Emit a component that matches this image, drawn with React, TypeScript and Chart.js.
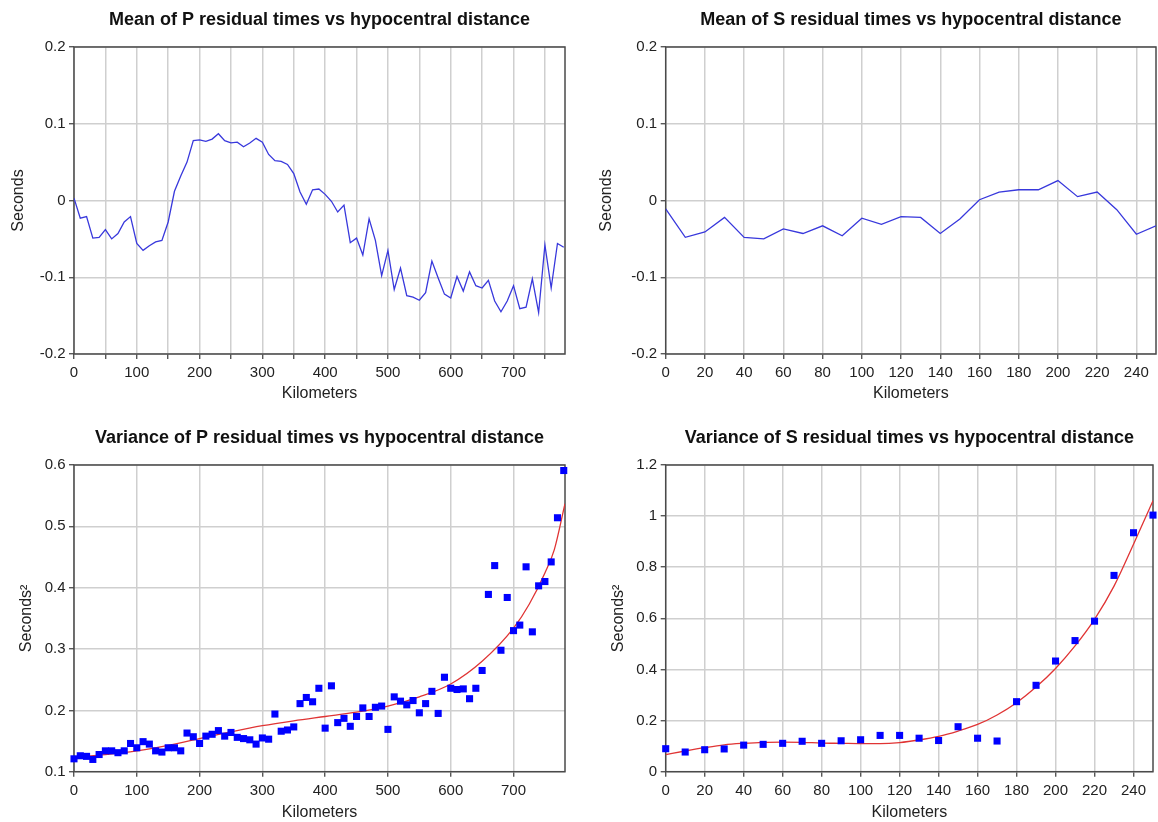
import { useEffect, useRef } from 'react';
import { Chart, registerables } from 'chart.js';

Chart.register(...registerables);

// ---- P phase: hypocentral distance (km) and residual statistics ----
const pDistanceKm = [
  0, 10, 20, 30, 40, 50, 60, 70, 80, 90, 100, 110, 120, 130, 140, 150, 160, 170, 180, 190,
  200, 210, 220, 230, 240, 250, 260, 270, 280, 290, 300, 310, 320, 330, 340, 350, 360, 370, 380, 390,
  400, 410, 420, 430, 440, 450, 460, 470, 480, 490, 500, 510, 520, 530, 540, 550, 560, 570, 580, 590,
  600, 610, 620, 630, 640, 650, 660, 670, 680, 690, 700, 710, 720, 730, 740, 750, 760, 770, 780,
];

const pMeanResidual = [
  0.003, -0.023, -0.021, -0.049, -0.048, -0.038, -0.050, -0.043, -0.028, -0.021,
  -0.056, -0.065, -0.059, -0.054, -0.052, -0.028, 0.012, 0.032, 0.050, 0.078,
  0.079, 0.077, 0.080, 0.087, 0.078, 0.075, 0.076, 0.070, 0.075, 0.081,
  0.076, 0.060, 0.052, 0.051, 0.047, 0.035, 0.011, -0.005, 0.014, 0.015,
  0.008, -0.001, -0.015, -0.006, -0.055, -0.049, -0.071, -0.024, -0.052, -0.098,
  -0.065, -0.116, -0.088, -0.124, -0.126, -0.130, -0.120, -0.079, -0.101, -0.122,
  -0.127, -0.099, -0.118, -0.093, -0.111, -0.114, -0.104, -0.131, -0.145, -0.131,
  -0.111, -0.141, -0.139, -0.102, -0.146, -0.058, -0.114, -0.056, -0.061,
];

const pVarianceResidual = [
  0.121, 0.126, 0.125, 0.120, 0.128, 0.134, 0.134, 0.131, 0.134, 0.146,
  0.139, 0.149, 0.145, 0.134, 0.132, 0.139, 0.139, 0.134, 0.163, 0.157,
  0.146, 0.158, 0.161, 0.167, 0.158, 0.164, 0.156, 0.154, 0.152, 0.145,
  0.155, 0.153, 0.194, 0.166, 0.168, 0.173, 0.211, 0.221, 0.214, 0.236,
  0.171, 0.240, 0.180, 0.187, 0.174, 0.190, 0.204, 0.190, 0.205, 0.207,
  0.169, 0.222, 0.215, 0.209, 0.216, 0.196, 0.211, 0.231, 0.195, 0.254,
  0.236, 0.234, 0.235, 0.219, 0.236, 0.265, 0.389, 0.436, 0.298, 0.384,
  0.330, 0.339, 0.434, 0.328, 0.403, 0.410, 0.442, 0.514, 0.591,
];

// Fitted trend of the P variance
const pFitKm = [0, 50, 100, 150, 200, 250, 300, 350, 400, 450, 500, 550, 600, 650, 700, 725, 750, 765, 782];
const pFitVariance = [
  0.124, 0.128, 0.134, 0.143, 0.154, 0.165, 0.175, 0.183, 0.190, 0.197,
  0.207, 0.222, 0.243, 0.280, 0.334, 0.373, 0.424, 0.462, 0.537,
];

// ---- S phase ----
const sDistanceKm = [
  0, 10, 20, 30, 40, 50, 60, 70, 80, 90, 100, 110, 120, 130, 140, 150, 160, 170, 180, 190,
  200, 210, 220, 230, 240, 250,
];

const sMeanResidual = [
  -0.011, -0.048, -0.041, -0.022, -0.048, -0.050, -0.037, -0.043, -0.033, -0.046,
  -0.023, -0.031, -0.021, -0.022, -0.043, -0.024, 0.001, 0.011, 0.014, 0.014,
  0.026, 0.005, 0.011, -0.012, -0.044, -0.033,
];

const sVarianceResidual = [
  0.090, 0.077, 0.086, 0.089, 0.104, 0.107, 0.111, 0.119, 0.111, 0.121,
  0.125, 0.142, 0.142, 0.131, 0.122, 0.176, 0.131, 0.120, 0.274, 0.338,
  0.433, 0.513, 0.589, 0.768, 0.935, 1.004,
];

// Fitted trend of the S variance, sampled at sDistanceKm
const sFitVariance = [
  0.067, 0.081, 0.094, 0.105, 0.111, 0.115, 0.116, 0.115, 0.112, 0.111,
  0.110, 0.110, 0.114, 0.124, 0.138, 0.159, 0.185, 0.222, 0.270, 0.331,
  0.404, 0.492, 0.596, 0.726, 0.890, 1.060,
];

const FONT = '"Liberation Sans", Arial, Helvetica, sans-serif';
const LINE_BLUE = '#3838dc';
const POINT_BLUE = '#0000ff';
const FIT_RED = '#e03434';

const toXY = (xs: number[], ys: number[]) => xs.map((x, i) => ({ x, y: ys[i] }));

// Plain number labels: 1 rather than 1.0, -0.1 rather than -0.10
const plainNumber = (v: number) => String(Number(v.toFixed(3)));

const framePlugin = {
  id: 'plotFrame',
  beforeDatasetsDraw(chart: any) {
    const { ctx, chartArea: a } = chart;
    ctx.save();
    ctx.strokeStyle = '#4a4a4a';
    ctx.lineWidth = 1.5;
    ctx.strokeRect(a.left, a.top, a.right - a.left, a.bottom - a.top);
    ctx.restore();
  },
};

type PanelSpec = {
  left: number;
  top: number;
  width: number;
  height: number;
  title: string;
  yTitle: string;
  xMax: number;
  xStep: number;
  xLabelEvery: number;
  yMin: number;
  yMax: number;
  yStep: number;
  yAxisWidth: number;
  xAxisHeight: number;
  padRight: number;
  titlePadTop: number;
  titlePadBottom: number;
  yTitlePad: number;
  xTitlePad: number;
  xTickPad: number;
  datasets: any[];
};

function buildConfig(s: PanelSpec): any {
  return {
    type: 'line',
    data: { datasets: s.datasets },
    plugins: [framePlugin],
    options: {
      responsive: false,
      animation: false,
      devicePixelRatio: 1,
      events: [],
      layout: { padding: { left: 0, right: s.padRight, top: 0, bottom: 0 } },
      plugins: {
        legend: { display: false },
        tooltip: { enabled: false },
        title: {
          display: true,
          text: s.title,
          fullSize: false,
          color: '#111',
          font: { family: FONT, size: 18, weight: 'bold', lineHeight: 1.2 },
          padding: { top: s.titlePadTop, bottom: s.titlePadBottom },
        },
      },
      scales: {
        x: {
          type: 'linear',
          min: 0,
          max: s.xMax,
          afterFit: (scale: any) => {
            scale.height = s.xAxisHeight;
          },
          border: { display: false },
          grid: {
            color: '#cfcfcf',
            lineWidth: 1.5,
            drawTicks: true,
            tickLength: 5,
            tickColor: '#3a3a3a',
            tickWidth: 1.2,
          },
          ticks: {
            stepSize: s.xStep,
            includeBounds: false,
            autoSkip: false,
            maxRotation: 0,
            padding: s.xTickPad,
            color: '#222',
            font: { family: FONT, size: 15 },
            callback: (v: number) => (Math.round(v) % s.xLabelEvery === 0 ? String(v) : ''),
          },
          title: {
            display: true,
            text: 'Kilometers',
            color: '#222',
            font: { family: FONT, size: 16 },
            padding: { top: 0, bottom: s.xTitlePad },
          },
        },
        y: {
          type: 'linear',
          min: s.yMin,
          max: s.yMax,
          afterFit: (scale: any) => {
            scale.width = s.yAxisWidth;
          },
          border: { display: false },
          grid: {
            color: '#cfcfcf',
            lineWidth: 1.5,
            drawTicks: true,
            tickLength: 5,
            tickColor: '#3a3a3a',
            tickWidth: 1.2,
          },
          ticks: {
            stepSize: s.yStep,
            padding: 3.5,
            color: '#222',
            font: { family: FONT, size: 15 },
            callback: (v: number) => plainNumber(v),
          },
          title: {
            display: true,
            text: s.yTitle,
            color: '#222',
            font: { family: FONT, size: 16 },
            padding: { top: s.yTitlePad, bottom: 0 },
          },
        },
      },
    },
  };
}

const meanLine = (xs: number[], ys: number[]) => ({
  data: toXY(xs, ys),
  borderColor: LINE_BLUE,
  borderWidth: 1.3,
  pointRadius: 0,
  tension: 0,
  fill: false,
});

const variancePoints = (xs: number[], ys: number[]) => ({
  data: toXY(xs, ys),
  showLine: false,
  pointStyle: 'rect',
  pointRadius: 5,
  pointBackgroundColor: POINT_BLUE,
  pointBorderWidth: 0,
  clip: false,
  order: 0,
});

const fitLine = (xs: number[], ys: number[]) => ({
  data: toXY(xs, ys),
  borderColor: FIT_RED,
  borderWidth: 1.3,
  pointRadius: 0,
  cubicInterpolationMode: 'monotone',
  fill: false,
  order: 1,
});

const panels: PanelSpec[] = [
  {
    left: 0, top: 0, width: 579, height: 411,
    title: 'Mean of P residual times vs hypocentral distance',
    yTitle: 'Seconds',
    xMax: 782, xStep: 50, xLabelEvery: 100,
    yMin: -0.2, yMax: 0.2, yStep: 0.1,
    yAxisWidth: 74, xAxisHeight: 57, padRight: 14,
    titlePadTop: 9.2, titlePadBottom: 16.2,
    yTitlePad: 9.4, xTitlePad: 8.1, xTickPad: 5,
    datasets: [meanLine(pDistanceKm, pMeanResidual)],
  },
  {
    left: 579, top: 0, width: 579, height: 411,
    title: 'Mean of S residual times vs hypocentral distance',
    yTitle: 'Seconds',
    xMax: 250, xStep: 20, xLabelEvery: 20,
    yMin: -0.2, yMax: 0.2, yStep: 0.1,
    yAxisWidth: 86.7, xAxisHeight: 57, padRight: 2,
    titlePadTop: 9.2, titlePadBottom: 16.2,
    yTitlePad: 18.4, xTitlePad: 8.1, xTickPad: 5,
    datasets: [meanLine(sDistanceKm, sMeanResidual)],
  },
  {
    left: 0, top: 411, width: 579, height: 411,
    title: 'Variance of P residual times vs hypocentral distance',
    yTitle: 'Seconds\u00B2',
    xMax: 782, xStep: 100, xLabelEvery: 100,
    yMin: 0.1, yMax: 0.6, yStep: 0.1,
    yAxisWidth: 74, xAxisHeight: 50.3, padRight: 14,
    titlePadTop: 16.2, titlePadBottom: 16.2,
    yTitlePad: 17.4, xTitlePad: 0, xTickPad: 5.5,
    datasets: [variancePoints(pDistanceKm, pVarianceResidual), fitLine(pFitKm, pFitVariance)],
  },
  {
    left: 579, top: 411, width: 579, height: 411,
    title: 'Variance of S residual times vs hypocentral distance',
    yTitle: 'Seconds\u00B2',
    xMax: 250, xStep: 20, xLabelEvery: 20,
    yMin: 0, yMax: 1.2, yStep: 0.2,
    yAxisWidth: 86.7, xAxisHeight: 50.3, padRight: 2,
    titlePadTop: 16.2, titlePadBottom: 16.2,
    yTitlePad: 30.4, xTitlePad: 0, xTickPad: 5.5,
    datasets: [variancePoints(sDistanceKm, sVarianceResidual), fitLine(sDistanceKm, sFitVariance)],
  },
];

function Panel({ spec }: { spec: PanelSpec }) {
  const ref = useRef<HTMLCanvasElement>(null);
  useEffect(() => {
    if (!ref.current) return;
    const chart = new Chart(ref.current, buildConfig(spec));
    return () => chart.destroy();
  }, [spec]);
  return (
    <canvas
      ref={ref}
      width={spec.width}
      height={spec.height}
      style={{
        position: 'absolute',
        left: spec.left,
        top: spec.top,
        width: spec.width,
        height: spec.height,
      }}
    />
  );
}

export default function App() {
  return (
    <div
      style={{
        position: 'absolute',
        left: 0,
        top: 0,
        width: 1158,
        height: 822,
        background: '#ffffff',
        overflow: 'hidden',
      }}
    >
      {panels.map((p) => (
        <Panel key={p.title} spec={p} />
      ))}
    </div>
  );
}
